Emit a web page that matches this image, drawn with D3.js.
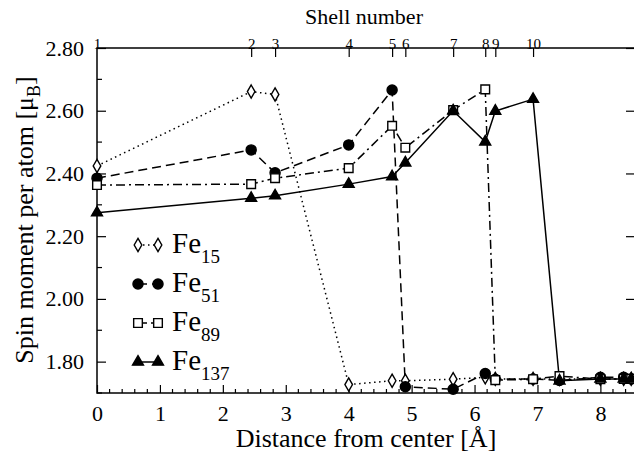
<!DOCTYPE html>
<html>
<head>
<meta charset="utf-8">
<script src="https://cdn.jsdelivr.net/npm/d3@7"></script>
<style>
  body { margin: 0; background: #fff; }
</style>
</head>
<body>
<div id="chart"></div>
<script>
// Data
const distance = [0, 2.45, 2.83, 4.0, 4.69, 4.90, 5.66, 6.17, 6.33, 6.93, 7.35, 8.0, 8.37, 8.49];
const fe15  = [2.424, 2.661, 2.652, 1.727, 1.739, 1.739, 1.744, 1.750, 1.745, 1.745, 1.745, 1.745, 1.745, 1.745];
const fe51  = [2.385, 2.475, 2.402, 2.491, 2.666, 1.720, 1.712, 1.762, 1.744, 1.745, 1.740, 1.750, 1.750, 1.745];
const fe89  = [2.363, 2.366, 2.385, 2.417, 2.552, 2.482, 2.602, 2.668, 1.741, 1.744, 1.754, 1.744, 1.745, 1.745];
const fe137 = [2.275, 2.321, 2.329, 2.366, 2.390, 2.434, 2.600, 2.501, 2.599, 2.637, 1.739, 1.745, 1.745, 1.745];

const seriesNames = ["15", "51", "89", "137"];
const shellNumbers = [1, 2, 3, 4, 5, 6, 7, 8, 9, 10];
const shellDistance = [0, 2.45, 2.83, 4.0, 4.69, 4.90, 5.66, 6.17, 6.33, 6.93];
const xTicks = [0, 1, 2, 3, 4, 5, 6, 7, 8];
const yTicks = [1.8, 2.0, 2.2, 2.4, 2.6, 2.8];

const width = 634, height = 455;
const margin = {top: 48, bottom: 62, left: 97, right: -1};
const serif = "'Liberation Serif', 'DejaVu Serif', 'Times New Roman', serif";

const svg = d3.select("#chart")
    .append("svg")
    .attr("width", width)
    .attr("height", height);

const xScale = d3.scaleLinear()
    .domain([0, 8.55])
    .range([margin.left, width - margin.right]);

const yScale = d3.scaleLinear()
    .domain([1.70, 2.80])
    .range([height - margin.bottom, margin.top]);

const x0 = xScale.range()[0], x1 = xScale.range()[1];
const y0 = yScale.range()[0], y1 = yScale.range()[1];

// frame
svg.append("rect")
    .attr("x", x0).attr("y", y1)
    .attr("width", x1 - x0).attr("height", y0 - y1)
    .attr("fill", "none")
    .attr("stroke", "#000")
    .attr("stroke-width", 1.5);

// bottom axis, ticks pointing inward
const xAxis = svg.append("g")
    .attr("transform", `translate(0,${y0})`)
    .call(d3.axisBottom(xScale).tickValues(xTicks).tickSizeInner(-8).tickSizeOuter(0).tickPadding(12));
xAxis.attr("font-size", 22);
xAxis.select(".domain").remove();
xAxis.selectAll("line").attr("stroke-width", 1.2);

// minor x ticks every 0.2
const xMinor = d3.range(0, 8.55, 0.2).filter(v => Math.abs(v - Math.round(v)) > 0.01);
svg.append("g").selectAll("line")
    .data(xMinor)
    .enter().append("line")
    .attr("x1", d => xScale(d)).attr("x2", d => xScale(d))
    .attr("y1", y0).attr("y2", y0 - 4)
    .attr("stroke", "#000").attr("stroke-width", 1.2);

// left axis
const yAxis = svg.append("g")
    .attr("transform", `translate(${x0},0)`)
    .call(d3.axisLeft(yScale).tickValues(yTicks).tickFormat(d3.format(".2f"))
        .tickSizeInner(-9).tickSizeOuter(0).tickPadding(13));
yAxis.attr("font-size", 22);
yAxis.select(".domain").remove();
yAxis.selectAll("line").attr("stroke-width", 1.2);

// right axis ticks (mirrored)
const yRight = svg.append("g")
    .attr("transform", `translate(${x1},0)`)
    .call(d3.axisRight(yScale).tickValues(yTicks).tickFormat("").tickSizeInner(-9).tickSizeOuter(0));
yRight.select(".domain").remove();
yRight.selectAll("line").attr("stroke-width", 1.2);

// minor y ticks
const yMinor = [1.7, 1.9, 2.1, 2.3, 2.5, 2.7];
svg.append("g").selectAll("line")
    .data(yMinor)
    .enter().append("line")
    .attr("x1", x0).attr("x2", x0 + 5)
    .attr("y1", d => yScale(d)).attr("y2", d => yScale(d))
    .attr("stroke", "#000").attr("stroke-width", 1.2);

// top axis: shell numbers
const shellScale = d3.scaleOrdinal().domain(shellNumbers).range(shellDistance.map(d => xScale(d)));
const topAxis = svg.append("g")
    .attr("transform", `translate(0,${y1})`)
    .call(d3.axisTop(shellScale).tickSizeInner(-9).tickSizeOuter(0).tickPadding(-1));
topAxis.attr("font-size", 15);
topAxis.select(".domain").remove();
topAxis.selectAll("line").attr("stroke-width", 1.2);
topAxis.selectAll(".tick").filter(d => d === 1).select("line").remove();

// axis titles
svg.append("text")
    .attr("x", 366)
    .attr("y", 447)
    .style("font-size", "26px")
    .style("text-anchor", "middle")
    .text("Distance from center [Å]");

svg.append("text")
    .attr("x", 364)
    .attr("y", 24)
    .style("font-size", "22px")
    .style("text-anchor", "middle")
    .text("Shell number");

const yTitle = svg.append("text")
    .attr("transform", "translate(33,220) rotate(-90)")
    .style("font-size", "26px")
    .style("text-anchor", "middle");
yTitle.append("tspan").text("Spin moment per atom [μ");
yTitle.append("tspan").attr("dy", 7).style("font-size", "18px").text("B");
yTitle.append("tspan").attr("dy", -7).text("]");

// series definitions
const series = [
    {values: fe15,  dash: "1.5,3.5", symbol: d3.symbolDiamond,  size: 50, fill: "#fff"},
    {values: fe51,  dash: "9,5",     symbol: d3.symbolCircle,   size: 80, fill: "#000"},
    {values: fe89,  dash: "9,4,2,4", symbol: d3.symbolSquare,   size: 75, fill: "#fff"},
    {values: fe137, dash: null,      symbol: d3.symbolTriangle, size: 52, fill: "#000"}
];

const line = d3.line()
    .x((d, i) => xScale(distance[i]))
    .y(d => yScale(d));

series.forEach(s => {
    svg.append("path")
        .datum(s.values)
        .attr("d", line)
        .attr("fill", "none")
        .attr("stroke", "#000")
        .attr("stroke-width", 1.5)
        .attr("stroke-dasharray", s.dash);
});

series.forEach(s => {
    svg.append("g").selectAll("path")
        .data(s.values)
        .enter().append("path")
        .attr("transform", (d, i) => `translate(${xScale(distance[i])},${yScale(d)})`)
        .attr("d", d3.symbol().type(s.symbol).size(s.size))
        .attr("fill", s.fill)
        .attr("stroke", "#000")
        .attr("stroke-width", 1.4);
});

// legend
const legend = svg.selectAll(".legend")
    .data(series)
    .enter().append("g")
    .attr("class", "legend")
    .attr("transform", (d, i) => `translate(0,${245 + i * 39})`);

legend.append("line")
    .attr("x1", 138).attr("x2", 158)
    .attr("y1", 0).attr("y2", 0)
    .attr("stroke", "#000")
    .attr("stroke-width", 1.5)
    .attr("stroke-dasharray", d => d.dash);

[138, 158].forEach(px => {
    legend.append("path")
        .attr("transform", `translate(${px},0)`)
        .attr("d", d => d3.symbol().type(d.symbol).size(d.size)())
        .attr("fill", d => d.fill)
        .attr("stroke", "#000")
        .attr("stroke-width", 1.4);
});

const label = legend.append("text")
    .attr("x", 172)
    .attr("y", 8)
    .style("font-size", "29px");
label.append("tspan").text("Fe");
label.append("tspan")
    .attr("dy", 10)
    .style("font-size", "19px")
    .text((d, i) => seriesNames[i]);

// serif everywhere, set on each text node
svg.selectAll("text")
    .style("font-family", serif)
    .style("fill", "#000");
</script>
</body>
</html>
